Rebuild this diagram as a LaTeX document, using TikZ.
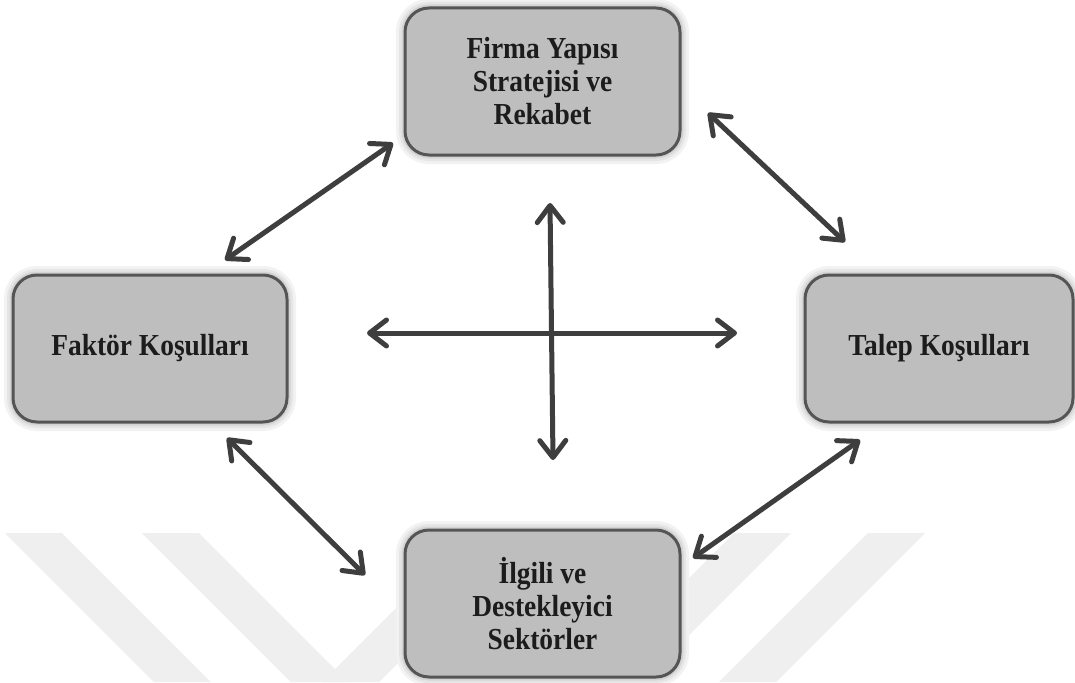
\documentclass[tikz,border=0pt]{standalone}
\usepackage{fontspec}
\setmainfont[FakeStretch=0.9]{Liberation Serif}
\usetikzlibrary{arrows.meta}
\definecolor{boxfill}{RGB}{190,190,190}
\definecolor{boxline}{RGB}{85,85,85}
\definecolor{arrowc}{RGB}{62,62,62}
\definecolor{wm}{RGB}{239,239,239}
\definecolor{txt}{RGB}{28,28,28}
\tikzset{barbtip/.tip={Straight Barb[length=17pt,width=26pt,line cap=round,line join=round]}}
\begin{document}
\begin{tikzpicture}[x=1pt,y=-1pt,
  box/.style={draw=boxline, line width=3pt, fill=boxfill, rounded corners=24pt,
    minimum width=275pt, minimum height=147pt, inner sep=0pt, align=center,
    font=\bfseries\fontsize{30.5}{33}\selectfont, text=txt,
    preaction={draw=black!5, line width=18pt},
    preaction={draw=black!10, line width=12pt},
    preaction={draw=black!17, line width=7pt}},
  biarrow/.style={draw=arrowc, line width=5pt, line cap=round, {barbtip}-{barbtip}},
  strip/.style={fill=wm, draw=none}
]
\useasboundingbox (0,0) rectangle (1075,682);
\fill[white] (0,0) rectangle (1075,682);

% watermark strips
\begin{scope}
\clip (0,533) rectangle (1075,682);
\fill[strip] (5,533) -- (62,533) -- (211,682) -- (154,682) -- cycle;
\fill[strip] (142,533) -- (199,533) -- (348,682) -- (291,682) -- cycle;
\fill[strip] (471,533) -- (528,533) -- (379,682) -- (322,682) -- cycle;
\fill[strip] (734,533) -- (791,533) -- (642,682) -- (585,682) -- cycle;
\fill[strip] (868,533) -- (925,533) -- (776,682) -- (719,682) -- cycle;
\end{scope}

% boxes
\node[box] (firma) at (542.5,81.5) {Firma Yapısı\\Stratejisi ve\\Rekabet};
\node[box, minimum width=274pt] (faktor) at (150,348.5) {Faktör Koşulları};
\node[box, minimum width=268pt] (talep) at (939,348.5) {Talep Koşulları};
\node[box] (ilgili) at (542.5,603.5) {İlgili ve\\Destekleyici\\Sektörler};

% arrow end points
\coordinate (hl) at (367,333);
\coordinate (hr) at (737,333);
\coordinate (vt) at (550,203);
\coordinate (vb) at (553,460);
\coordinate (tla) at (393,143);
\coordinate (tlb) at (225,260);
\coordinate (tra) at (708,113);
\coordinate (trb) at (845,242);
\coordinate (bla) at (227,438);
\coordinate (blb) at (365,575);
\coordinate (bra) at (860,440);
\coordinate (brb) at (693,558);

\draw[biarrow] (hl) -- (hr);
\draw[biarrow] (vt) -- (vb);
\draw[biarrow] (tla) -- (tlb);
\draw[biarrow] (tra) -- (trb);
\draw[biarrow] (bla) -- (blb);
\draw[biarrow] (bra) -- (brb);
\end{tikzpicture}
\end{document}
